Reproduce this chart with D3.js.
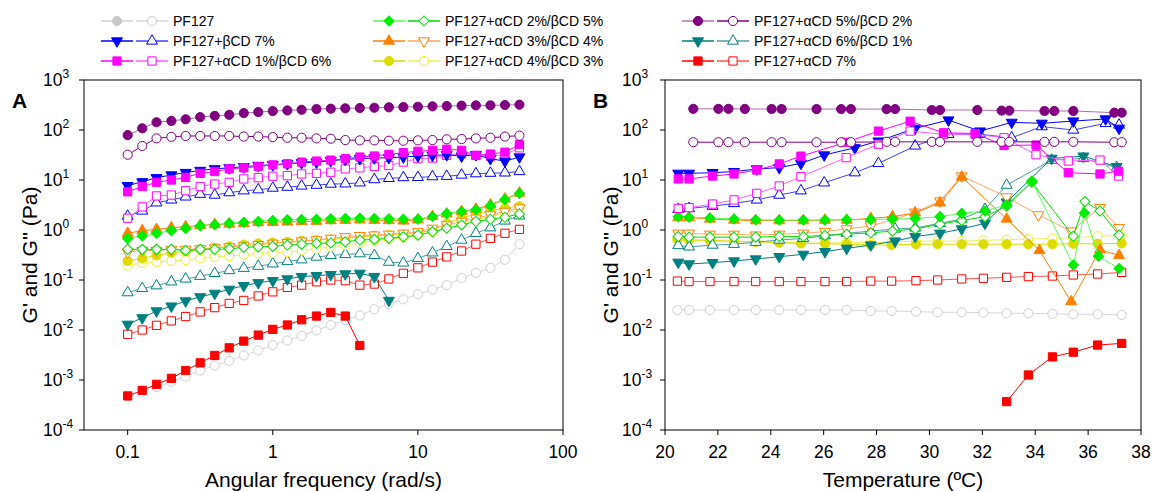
<!DOCTYPE html>
<html lang="en">
<head>
<meta charset="UTF-8">
<title>PF127 rheology</title>
<script src="https://cdn.jsdelivr.net/npm/d3@7"></script>
<style>
  body { margin: 0; background: #fff; }
  svg text { font-family: "Liberation Sans", Arial, sans-serif; fill: #000; }
</style>
</head>
<body>
<svg id="chart" width="1158" height="491"></svg>
<script>
// ---------- data: panel A (frequency sweep) ----------
const freq = [0.1,0.126,0.158,0.2,0.251,0.316,0.398,0.501,0.631,0.794,1,1.26,1.58,2,2.51,3.16,3.98,5.01,6.31,7.94,10,12.6,15.8,20,25.1,31.6,39.8,50.1];

const aPF127G2 = [null,null,0.00072,0.00092,0.00117,0.00155,0.00195,0.0024,0.0031,0.0039,0.005,0.0062,0.0076,0.0098,0.0126,0.0157,0.0195,0.026,0.033,0.041,0.052,0.064,0.079,0.11,0.139,0.175,0.254,0.52];
const aB7G1 = [7.7,9.2,11.1,12.6,14.1,15.5,16.7,17.5,18.4,19.5,20.1,21.1,22.1,22.8,24.3,25.8,26.7,27.5,27.9,28.8,30.2,31.1,32,30,32,26.7,23.8,28.8];
const aB7G2 = [1.9,2.4,3.5,4.0,4.6,5.2,5.0,5.6,6.1,6.4,6.9,7.2,7.6,7.9,8.3,8.4,8.8,10.2,10.8,11.2,11.3,11.7,11.9,12.6,13.4,13.7,13.9,14.8];
const aA1G1 = [5.8,7.4,9.0,10,11.3,13.6,14.8,16.7,17.5,18.6,20.1,21.1,22.8,23.9,25,26.7,28.8,30.2,32.6,35.3,37.5,39.3,41.2,39.3,31,33,36,51];
const aA1G2 = [1.72,2.9,4.8,5.0,6.1,7.4,8.3,9.0,10.5,11.1,11.9,12.2,13.2,13.6,14.3,16.7,17.5,18.6,19.5,22.8,26.7,27.5,31,33.6,31,30,32,44];
const aA2G1 = [0.68,0.76,0.86,0.97,1.08,1.21,1.28,1.36,1.43,1.48,1.55,1.6,1.62,1.64,1.67,1.7,1.72,1.7,1.67,1.64,1.64,1.86,2.11,2.35,2.54,3.06,4.06,5.4];
const aA2G2 = [0.41,0.41,0.41,0.41,0.39,0.41,0.41,0.42,0.45,0.46,0.47,0.5,0.52,0.54,0.55,0.58,0.63,0.65,0.68,0.73,0.79,0.92,1.08,1.26,1.48,1.64,1.8,2.1];
const aA3G1 = [0.86,0.97,1.03,1.11,1.17,1.24,1.28,1.32,1.36,1.41,1.43,1.45,1.48,1.5,1.55,1.57,1.6,1.57,1.55,1.52,1.6,1.86,2.11,2.35,2.62,3.2,4.2,5.5];
const aA3G2 = [0.36,0.39,0.39,0.41,0.41,0.42,0.44,0.46,0.48,0.51,0.54,0.56,0.6,0.63,0.68,0.73,0.77,0.79,0.82,0.86,0.92,1.08,1.26,1.48,1.72,2.0,2.35,2.75];
const aA4G1 = [0.24,0.27,0.31,0.35,0.375,0.41,0.44,0.47,0.51,0.54,0.56,0.58,0.61,0.63,0.65,0.68,0.73,0.77,0.79,0.82,0.86,1.0,1.36,1.72,2.1,2.46,2.75,2.97];
const aA4G2 = [0.195,0.22,0.23,0.24,0.25,0.27,0.29,0.30,0.32,0.34,0.35,0.36,0.39,0.42,0.46,0.5,0.55,0.61,0.65,0.71,0.79,0.92,1.13,1.36,1.6,1.86,2.18,2.46];
const aA5G1 = [79,108,143,152,164,181,192,201,218,228,239,246,254,262,267,271,275,279,284,288,292,297,302,307,311,311,316,321];
const aA5G2 = [32,48,68,73,76,76,76,76,74,74,72,70,70,68,67,63,62,62,61,61,62,63,65,66,68,70,74,77];
const aA6G1 = [0.013,0.0175,0.024,0.030,0.038,0.046,0.054,0.065,0.077,0.088,0.097,0.105,0.117,0.122,0.128,0.132,0.136,0.117,0.039,null,null,null,null,null,null,null,null,null];
const aA6G2 = [0.056,0.068,0.077,0.092,0.105,0.119,0.136,0.155,0.172,0.189,0.211,0.235,0.254,0.288,0.311,0.325,0.337,0.311,0.228,0.22,0.27,0.35,0.47,0.63,0.86,1.11,1.52,1.92];
const aA7G1 = [0.00048,0.00062,0.00082,0.00108,0.00155,0.0022,0.0031,0.0044,0.006,0.0079,0.0103,0.0126,0.016,0.019,0.0225,0.019,0.0049,null,null,null,null,null,null,null,null,null,null,null];
const aA7G2 = [0.0082,0.010,0.0124,0.0152,0.0186,0.023,0.028,0.034,0.039,0.048,0.058,0.071,0.079,0.092,0.1,0.097,0.079,0.083,0.105,0.136,0.175,0.228,0.29,0.38,0.52,0.68,0.86,1.03];

// ---------- data: panel B (temperature sweep) ----------
const tGrid = [20.47,20.91,21.70,22.61,23.43,24.32,25.14,26.05,26.87,27.78,28.57,29.49,30.31,31.22,32.04,32.92,33.74,34.65,35.44,36.36,37.27];
const tPurple = [21.07,22.02,22.40,23.02,24.03,24.41,25.73,26.66,27.03,28.38,28.70,30.09,30.40,31.81,32.73,33.02,34.35,34.72,35.44,36.99,37.27];
const tBlue = [20.50,20.91,21.80,22.61,23.47,24.32,25.14,26.02,27.18,28.07,29.46,30.72,31.91,33.11,34.25,35.44,36.66,37.17];
const tMagenta = [20.50,20.91,21.80,22.61,23.47,24.32,25.14,26.85,28.07,29.27,30.53,31.73,32.82,34.03,35.25,36.45,37.15];
const tOrangeG1 = [20.5,20.91,21.7,22.61,23.43,24.32,25.23,26.05,26.87,27.78,28.6,29.46,30.4,31.22,32.92,34.16,35.36,36.45,37.17];
const tOrangeG2 = [20.5,20.91,21.7,22.61,23.43,24.32,25.23,26.05,26.87,27.78,28.6,29.46,30.4,31.22,32.92,34.12,35.36,36.45,37.17];
const tGreenG1 = [20.5,20.91,21.7,22.61,23.43,24.32,25.23,26.05,26.87,27.78,28.6,29.46,30.4,31.22,32.1,32.92,33.87,35.44,35.86,36.39,37.17];
const tGreenG2 = [20.5,20.91,21.7,22.61,23.43,24.32,25.23,26.05,26.87,27.78,28.6,29.46,30.4,31.22,32.1,32.92,33.87,35.44,35.88,36.45,37.17];
const tTeal = [20.5,20.91,21.8,22.61,23.43,24.32,25.23,26.05,26.87,27.78,28.7,29.46,30.4,31.22,32.1,32.92,34.62,35.82,37.08];

const bPF127G2 = [0.0251,0.0251,0.0251,0.0251,0.0251,0.0251,0.0251,0.0251,0.0251,0.024,0.024,0.0233,0.0226,0.0226,0.0222,0.0216,0.0216,0.021,0.0206,0.0206,0.02];
const bB7G1 = [13.6,13.6,14.0,14.7,16.6,17.7,21.5,31.6,44,60,108,158,95,142,136,151,166,108];
const bB7G2 = [2.6,2.7,3.0,3.4,4.0,5.0,6.1,8.8,14,21.5,48,82,82,70,117,100,136,126];
const bA1G1 = [10.5,10.5,12,13.2,15.8,21,30,57,95,150,88,85,49,50,14,13.2,15];
const bA1G2 = [2.7,2.8,3.3,4.0,5.4,7.6,11.7,28,52,95,82,82,70,32,24,25,12];
const bA2G1 = [1.85,1.8,1.74,1.66,1.6,1.58,1.58,1.58,1.6,1.62,1.66,1.7,1.85,2.15,2.4,3.2,9.5,0.2,2.2,0.3,0.17];
const bA2G2 = [0.74,0.72,0.72,0.72,0.72,0.74,0.74,0.78,0.82,0.88,0.95,1.05,1.3,1.55,1.85,3.0,9.0,0.75,3.7,2.4,0.79];
const bA3G1 = [1.77,1.77,1.66,1.58,1.54,1.54,1.54,1.58,1.58,1.71,1.85,2.2,3.5,11.5,1.66,0.39,0.037,0.4,0.31];
const bA3G2 = [0.86,0.86,0.82,0.82,0.79,0.82,0.86,0.93,1.05,1.2,1.6,2.26,3.8,12,4.6,2.0,0.95,2.8,1.11];
const bA4G1 = [0.66,0.64,0.62,0.6,0.58,0.56,0.54,0.53,0.52,0.5,0.5,0.52,0.52,0.52,0.52,0.52,0.52,0.52,0.53,0.53,0.54];
const bA4G2 = [0.62,0.62,0.6,0.58,0.58,0.57,0.55,0.55,0.56,0.56,0.57,0.6,0.6,0.6,0.62,0.64,0.66,0.68,0.7,0.75,0.78];
const bA5G1 = [265,265,265,264,263,263,262,262,262,262,262,251,251,251,244,244,240,240,240,222,222];
const bA5G2 = [57,57,57,57,57,57,57,57,57,58,58,58,58,58,58,58,58,58,58,57,57];
const bA6G1 = [0.226,0.209,0.222,0.24,0.263,0.293,0.326,0.369,0.43,0.5,0.6,0.74,0.86,1.05,1.36,3.6,27,30,18.5];
const bA6G2 = [0.49,0.46,0.5,0.52,0.57,0.63,0.68,0.77,0.86,0.95,1.05,1.1,1.36,1.66,2.6,7.9,25,27,17.7];
const bA7G1 = [null,null,null,null,null,null,null,null,null,null,null,null,null,null,null,0.00037,0.00126,0.0029,0.0036,0.005,0.0054];
const bA7G2 = [0.095,0.093,0.093,0.093,0.093,0.093,0.093,0.093,0.093,0.095,0.095,0.097,0.1,0.105,0.108,0.113,0.117,0.12,0.126,0.132,0.142];

const legendLabels = ["PF127","PF127+\u03b2CD 7%","PF127+\u03b1CD 1%/\u03b2CD 6%",
  "PF127+\u03b1CD 2%/\u03b2CD 5%","PF127+\u03b1CD 3%/\u03b2CD 4%","PF127+\u03b1CD 4%/\u03b2CD 3%",
  "PF127+\u03b1CD 5%/\u03b2CD 2%","PF127+\u03b1CD 6%/\u03b2CD 1%","PF127+\u03b1CD 7%"];
const yTickExp = [-4,-3,-2,-1,0,1,2,3];
const xTicksA = [0.1,1,10,100];
const xTicksB = [20,22,24,26,28,30,32,34,36,38];

// ---------- styles (one per formulation) ----------
// s1/s2: marker shape for G' / G'', c: marker colour, l1/l2: line colour
const styles = [
  {s1:"circle", s2:"circle", c1:"#c8c8c8", c2:"#cfcfcf", l1:"#d0d0d0", l2:"#d6d6d6"},
  {s1:"tdown", s2:"tup", c1:"#0000ff", c2:"#0000ff", l1:"#0000ff", l2:"#4040ff"},
  {s1:"square", s2:"square", c1:"#ff00ff", c2:"#ff00ff", l1:"#ff00ff", l2:"#ff60ff"},
  {s1:"diamond", s2:"diamond", c1:"#00ee00", c2:"#00dd00", l1:"#55ff55", l2:"#00dd00"},
  {s1:"tup", s2:"tdown", c1:"#ff8000", c2:"#ff8000", l1:"#ff8000", l2:"#ffa860"},
  {s1:"circle", s2:"circle", c1:"#dcdc00", c2:"#eeee20", l1:"#dcdc00", l2:"#eeee60"},
  {s1:"circle", s2:"circle", c1:"#800080", c2:"#800080", l1:"#b070b0", l2:"#800080"},
  {s1:"tdown", s2:"tup", c1:"#008080", c2:"#008080", l1:"#008080", l2:"#50a0a0"},
  {s1:"square", s2:"square", c1:"#ff0000", c2:"#ff0000", l1:"#ff0000", l2:"#ff5555"}
];

const svg = d3.select("#chart");
const y = d3.scaleLog().domain([1e-4, 1e3]).range([430, 80]);
const xA = d3.scaleLog().domain([0.05, 100]).range([84, 563]);
const xB = d3.scaleLinear().domain([20, 38]).range([665, 1141]);

function symPath(shape) {
  if (shape === "circle") return d3.symbol().type(d3.symbolCircle).size(66)();
  if (shape === "square") return d3.symbol().type(d3.symbolSquare).size(68)();
  if (shape === "diamond") return d3.symbol().type(d3.symbolSquare).size(52)();
  return d3.symbol().type(d3.symbolTriangle).size(52)();
}
function symRot(shape) {
  if (shape === "diamond") return 45;
  if (shape === "tdown") return 180;
  return 0;
}

function series(g, x, xs, ys, si, which) {
  const st = styles[si];
  const shape = which === 1 ? st.s1 : st.s2;
  const col = which === 1 ? st.c1 : st.c2;
  const lc = which === 1 ? st.l1 : st.l2;
  const pts = xs.map((t, i) => [t, ys[i]]).filter(d => d[1] != null);
  g.append("path").datum(pts)
    .attr("d", d3.line().x(d => x(d[0])).y(d => y(d[1])))
    .attr("fill", "none").attr("stroke", lc).attr("stroke-width", 1);
  g.selectAll(null).data(pts).join("path")
    .attr("d", symPath(shape))
    .attr("transform", d => `translate(${x(d[0])},${y(d[1])}) rotate(${symRot(shape)})`)
    .attr("fill", which === 1 ? col : "#fff")
    .attr("stroke", col).attr("stroke-width", 1);
}

function frame(g, x, left, right, xTicks, xFmt, xTitle, tag, labelX) {
  g.append("rect").attr("x", left).attr("y", 80).attr("width", right - left).attr("height", 350)
    .attr("fill", "none").attr("stroke", "#000").attr("stroke-width", 1);
  yTickExp.forEach(e => {
    const yy = y(Math.pow(10, e));
    g.append("line").attr("x1", left - 5).attr("x2", left).attr("y1", yy).attr("y2", yy).attr("stroke", "#000");
    const t = g.append("text").attr("x", labelX).attr("y", yy + 6).attr("font-size", 17.5).text("10");
    t.append("tspan").attr("dy", -8).attr("font-size", 12).text(e);
  });
  xTicks.forEach(v => {
    const xx = x(v);
    g.append("line").attr("x1", xx).attr("x2", xx).attr("y1", 430).attr("y2", 435).attr("stroke", "#000");
    g.append("text").attr("x", xx).attr("y", 458).attr("text-anchor", "middle").attr("font-size", 17.5).text(xFmt(v));
  });
  g.append("text").attr("x", (left + right) / 2).attr("y", 487).attr("text-anchor", "middle")
    .attr("font-size", 21).text(xTitle);
  g.append("text").attr("transform", `translate(${left - 55},255) rotate(-90)`)
    .attr("text-anchor", "middle").attr("dominant-baseline", "central")
    .attr("font-size", 21).text("G' and G'' (Pa)");
  g.append("text").attr("x", left - 72).attr("y", 108).attr("font-size", 21)
    .attr("font-weight", "bold").text(tag);
}

// panel A
const gA = svg.append("g");
frame(gA, xA, 84, 563, xTicksA, v => String(v), "Angular frequency (rad/s)", "A", 43);
const gAd = gA.append("g");
series(gAd, xA, freq, aPF127G2, 0, 2);
series(gAd, xA, freq, aA7G2, 8, 2);
series(gAd, xA, freq, aA7G1, 8, 1);
series(gAd, xA, freq, aA6G2, 7, 2);
series(gAd, xA, freq, aA6G1, 7, 1);
series(gAd, xA, freq, aA4G2, 5, 2);
series(gAd, xA, freq, aA4G1, 5, 1);
series(gAd, xA, freq, aA3G2, 4, 2);
series(gAd, xA, freq, aA2G2, 3, 2);
series(gAd, xA, freq, aA3G1, 4, 1);
series(gAd, xA, freq, aA2G1, 3, 1);
series(gAd, xA, freq, aB7G2, 1, 2);
series(gAd, xA, freq, aA1G2, 2, 2);
series(gAd, xA, freq, aB7G1, 1, 1);
series(gAd, xA, freq, aA1G1, 2, 1);
series(gAd, xA, freq, aA5G2, 6, 2);
series(gAd, xA, freq, aA5G1, 6, 1);

// panel B
const gB = svg.append("g");
frame(gB, xB, 665, 1141, xTicksB, v => String(v), "Temperature (\u00baC)", "B", 622);
const gBd = gB.append("g");
series(gBd, xB, tGrid, bPF127G2, 0, 2);
series(gBd, xB, tGrid, bA7G2, 8, 2);
series(gBd, xB, tGrid, bA7G1, 8, 1);
series(gBd, xB, tGrid, bA4G2, 5, 2);
series(gBd, xB, tGrid, bA4G1, 5, 1);
series(gBd, xB, tTeal, bA6G2, 7, 2);
series(gBd, xB, tTeal, bA6G1, 7, 1);
series(gBd, xB, tOrangeG2, bA3G2, 4, 2);
series(gBd, xB, tOrangeG1, bA3G1, 4, 1);
series(gBd, xB, tGreenG2, bA2G2, 3, 2);
series(gBd, xB, tGreenG1, bA2G1, 3, 1);
series(gBd, xB, tBlue, bB7G2, 1, 2);
series(gBd, xB, tBlue, bB7G1, 1, 1);
series(gBd, xB, tMagenta, bA1G2, 2, 2);
series(gBd, xB, tMagenta, bA1G1, 2, 1);
series(gBd, xB, tPurple, bA5G2, 6, 2);
series(gBd, xB, tPurple, bA5G1, 6, 1);

// legend
const colX = [117, 389, 698];
const rowY = [21, 41, 61];
const lg = svg.append("g");
legendLabels.forEach((lab, i) => {
  const cx = colX[Math.floor(i / 3)], cy = rowY[i % 3];
  const st = styles[i];
  [[cx, st.s1, st.c1, st.l1, true], [cx + 35, st.s2, st.c2, st.l2, false]].forEach(([mx, sh, c, l, f]) => {
    lg.append("line").attr("x1", mx - 16).attr("x2", mx + 16).attr("y1", cy).attr("y2", cy)
      .attr("stroke", l).attr("stroke-width", 1.5);
    lg.append("path").attr("d", symPath(sh))
      .attr("transform", `translate(${mx},${cy}) rotate(${symRot(sh)})`)
      .attr("fill", f ? c : "#fff").attr("stroke", c);
  });
  lg.append("text").attr("x", cx + 56).attr("y", cy).attr("dominant-baseline", "central")
    .attr("font-size", 14).text(lab);
});
</script>
</body>
</html>
